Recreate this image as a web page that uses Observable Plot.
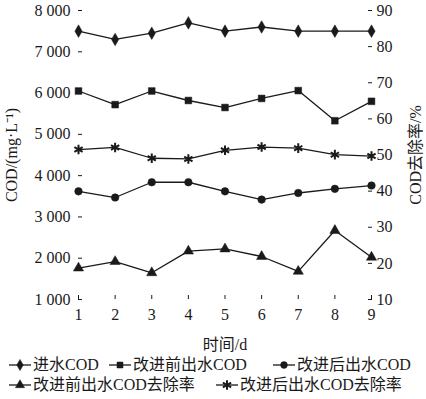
<!DOCTYPE html>
<html>
<head>
<meta charset="utf-8">
<script src="https://cdn.jsdelivr.net/npm/d3@7"></script>
<script src="https://cdn.jsdelivr.net/npm/@observablehq/plot@0.6"></script>
<style>
  html, body { margin: 0; padding: 0; background: #ffffff; }
  #wrap { position: relative; width: 426px; height: 399px; overflow: hidden; }
  #chart svg text { font-family: "Liberation Serif", "Noto Sans CJK SC", serif; }
  #legend { position: absolute; left: 0; top: 350px; width: 426px; height: 49px;
    font-family: "Liberation Serif", "Noto Sans CJK SC", serif; font-size: 16px; color: #1a1a1a; }
  .item { position: absolute; display: flex; align-items: center; white-space: nowrap; height: 20px; line-height: 20px; }
  .item svg { display: block; margin-right: 1px; }
</style>
</head>
<body>
<div id="wrap"><div id="chart"></div><div id="legend"></div></div>
<script>
const days = [1, 2, 3, 4, 5, 6, 7, 8, 9];
const inletCOD = [7500, 7300, 7450, 7700, 7500, 7600, 7500, 7500, 7500];
const effBeforeCOD = [6050, 5720, 6050, 5820, 5650, 5870, 6060, 5330, 5800];
const effAfterCOD = [3620, 3470, 3840, 3840, 3620, 3420, 3580, 3680, 3760];
const rateBefore = [18.7, 20.5, 17.4, 23.4, 24.0, 21.9, 17.8, 29.1, 21.7];
const rateAfter = [51.5, 52.1, 49.1, 48.9, 51.3, 52.2, 51.9, 50.1, 49.7];
const leftTicks = [1000, 2000, 3000, 4000, 5000, 6000, 7000, 8000];
const rightTicks = [10, 20, 30, 40, 50, 60, 70, 80, 90];

const seriesNames = ["进水COD", "改进前出水COD", "改进后出水COD", "改进前出水COD去除率", "改进后出水COD去除率"];
const seriesSymbols = ["diamond", "square", "circle", "triangle", "asterisk"];

// map a removal rate (right axis 10..90) onto the left COD scale (1000..8000)
const rateToLeft = r => 1000 + (r - 10) * (7000 / 80);
const leftToRate = v => Math.round(10 + (v - 1000) * (80 / 7000));

const rows = [];
days.forEach((d, i) => {
  rows.push({day: d, v: inletCOD[i], s: seriesNames[0]});
  rows.push({day: d, v: effBeforeCOD[i], s: seriesNames[1]});
  rows.push({day: d, v: effAfterCOD[i], s: seriesNames[2]});
  rows.push({day: d, v: rateToLeft(rateBefore[i]), s: seriesNames[3]});
  rows.push({day: d, v: rateToLeft(rateAfter[i]), s: seriesNames[4]});
});

const ink = "#1a1a1a";
const fmt = d => String(d).replace(/(\d)(\d{3})$/, "$1 $2");

const chart = Plot.plot({
  width: 426,
  height: 356,
  marginLeft: 78,
  marginRight: 55,
  marginTop: 10,
  marginBottom: 57,
  style: {fontFamily: "'Liberation Serif', 'Noto Sans CJK SC', serif", fontSize: "16px", color: ink, background: "#ffffff"},
  x: {domain: [1, 9]},
  y: {domain: [1000, 8000]},
  symbol: {domain: seriesNames, range: seriesSymbols},
  marks: [
    Plot.axisX({ticks: days, tickSize: -4, tickPadding: 13, line: true, stroke: ink, fill: ink,
      label: "时间/d", labelAnchor: "center", labelArrow: "none", labelOffset: 50, fontSize: 16}),
    Plot.axisY({anchor: "left", ticks: leftTicks, tickFormat: fmt, tickSize: -4, tickPadding: 12, line: true,
      stroke: ink, fill: ink, label: "COD/(mg·L⁻¹)", labelAnchor: "center", labelArrow: "none", labelOffset: 73, fontSize: 16}),
    Plot.axisY({anchor: "right", ticks: rightTicks.map(rateToLeft), tickFormat: leftToRate, tickSize: -4, tickPadding: 9, line: true,
      stroke: ink, fill: ink, label: "COD去除率/%", labelAnchor: "center", labelArrow: "none", labelOffset: 49, fontSize: 16}),
    Plot.lineY(rows, {x: "day", y: "v", z: "s", stroke: ink, strokeWidth: 1.3}),
    Plot.dot(rows.filter(r => r.s !== seriesNames[4]), {x: "day", y: "v", symbol: "s", fill: ink, stroke: ink, strokeWidth: 0.5, r: 3.8}),
    Plot.dot(rows.filter(r => r.s === seriesNames[4]), {x: "day", y: "v", symbol: "s", stroke: ink, strokeWidth: 2, r: 4.5})
  ]
});
document.getElementById("chart").appendChild(chart);

// legend
const legendPos = [[8, 5], [108, 5], [272, 5], [8, 25], [215, 25]];
const legend = document.getElementById("legend");
const symMap = {diamond: d3.symbolDiamond, square: d3.symbolSquare, circle: d3.symbolCircle, triangle: d3.symbolTriangle, asterisk: d3.symbolAsterisk};
seriesNames.forEach((name, i) => {
  const div = document.createElement("div");
  div.className = "item";
  div.style.left = legendPos[i][0] + "px";
  div.style.top = legendPos[i][1] + "px";
  const isStar = seriesSymbols[i] === "asterisk";
  const path = d3.symbol(symMap[seriesSymbols[i]], isStar ? 4.5 * 4.5 * Math.PI : 3.4 * 3.4 * Math.PI)();
  div.innerHTML = `<svg width="24" height="14" viewBox="0 0 24 14">
    <line x1="1" y1="7" x2="23" y2="7" stroke="${ink}" stroke-width="1.3"/>
    <path d="${path}" transform="translate(12,7)" fill="${isStar ? "none" : ink}" stroke="${ink}" stroke-width="${isStar ? 2 : 0.5}"/>
  </svg><span>${name}</span>`;
  legend.appendChild(div);
});
</script>
</body>
</html>
